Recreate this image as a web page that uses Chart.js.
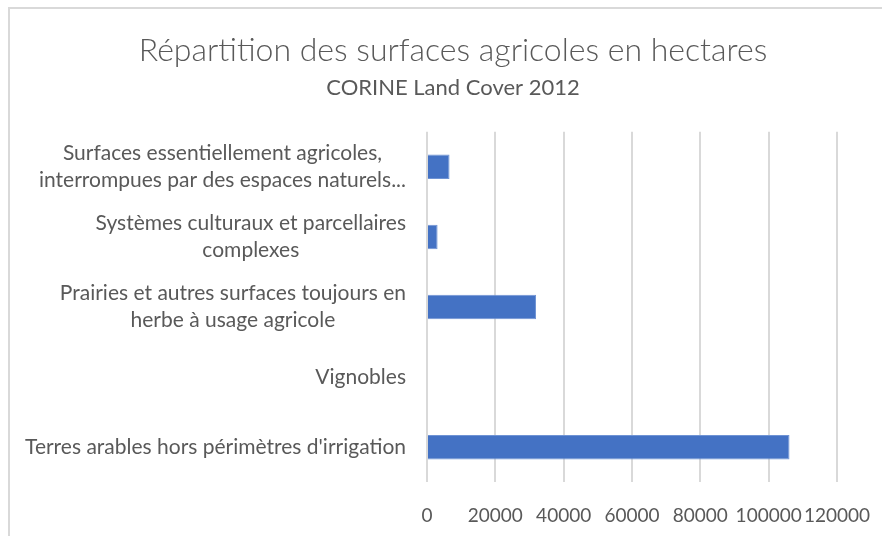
<!DOCTYPE html>
<html>
<head>
<meta charset="utf-8">
<script src="https://cdn.jsdelivr.net/npm/chart.js@4"></script>
<style>
  html, body { margin: 0; padding: 0; background: #fff; overflow: hidden; }
  #box { position: absolute; left: 8px; top: 7px; width: 886px; height: 540px; border: 2px solid #d9d9d9; }
</style>
</head>
<body>
<div id="box"><canvas id="myChart" width="886" height="540"></canvas></div>
<script>
// categories, top to bottom as drawn
var categories = [
  ['Surfaces essentiellement agricoles,', 'interrompues par des espaces naturels...'],
  ['Systèmes culturaux et parcellaires', 'complexes'],
  ['Prairies et autres surfaces toujours en', 'herbe à usage agricole'],
  ['Vignobles'],
  ["Terres arables hors périmètres d'irrigation"]
];
// hectares
var hectares = [6600, 3100, 31900, 0, 106100];
var xTicks = [0, 20000, 40000, 60000, 80000, 100000, 120000];

var grey = '#595959';
var font = 'Lato';

// Excel-style labels: block right aligned, lines centred inside it
var catLabels = {
  id: 'catLabels',
  afterDraw: function(chart) {
    var ctx = chart.ctx, y = chart.scales.y;
    var right = 396, lh = 27;
    ctx.save();
    ctx.font = '21px ' + font;
    ctx.fillStyle = grey;
    ctx.textAlign = 'center';
    ctx.textBaseline = 'middle';
    categories.forEach(function(lines, i) {
      var w = 0;
      lines.forEach(function(l) { w = Math.max(w, ctx.measureText(l).width); });
      var cx = right - w / 2;
      var cy = y.getPixelForTick(i) - (lines.length - 1) * lh / 2;
      lines.forEach(function(l, j) { ctx.fillText(l, cx, cy + j * lh); });
    });
    ctx.restore();
  }
};

var ctx = document.getElementById('myChart');
var myChart = new Chart(ctx, {
  type: 'bar',
  data: {
    labels: categories,
    datasets: [{
      data: hectares,
      backgroundColor: '#4472c4',
      borderColor: '#6f93d4',
      borderWidth: 1,
      barPercentage: 0.35,
      categoryPercentage: 1
    }]
  },
  options: {
    indexAxis: 'y',
    responsive: false,
    animation: false,
    layout: { padding: { left: 0, right: 0, top: 0, bottom: 0 } },
    plugins: {
      legend: { display: false },
      tooltip: { enabled: false },
      title: {
        display: true,
        text: 'Répartition des surfaces agricoles en hectares',
        color: grey,
        font: { family: font, size: 32, weight: '300' },
        padding: { top: 22, bottom: 5 }
      },
      subtitle: {
        display: true,
        text: 'CORINE Land Cover 2012',
        color: grey,
        font: { family: font, size: 22 },
        padding: { top: 0, bottom: 31 }
      }
    },
    scales: {
      x: {
        min: 0,
        max: 120000,
        afterBuildTicks: function(s) { s.ticks = xTicks.map(function(v) { return { value: v }; }); },
        grid: { color: '#d9d9d9', lineWidth: 2, drawTicks: false },
        border: { display: false },
        ticks: {
          color: grey, font: { family: font, size: 19 }, padding: 22, autoSkip: false, maxRotation: 0,
          callback: function(v) { return String(v); }
        }
      },
      y: {
        grid: { display: false },
        border: { display: false },
        ticks: { display: false },
        afterFit: function(s) { s.width = 417; }
      },
      // empty strip on the right so the plot ends where the reference ends
      yRight: {
        type: 'category',
        position: 'right',
        grid: { display: false },
        border: { display: false },
        ticks: { display: false },
        afterFit: function(s) { s.width = 59; }
      }
    }
  },
  plugins: [catLabels]
});
</script>
</body>
</html>
